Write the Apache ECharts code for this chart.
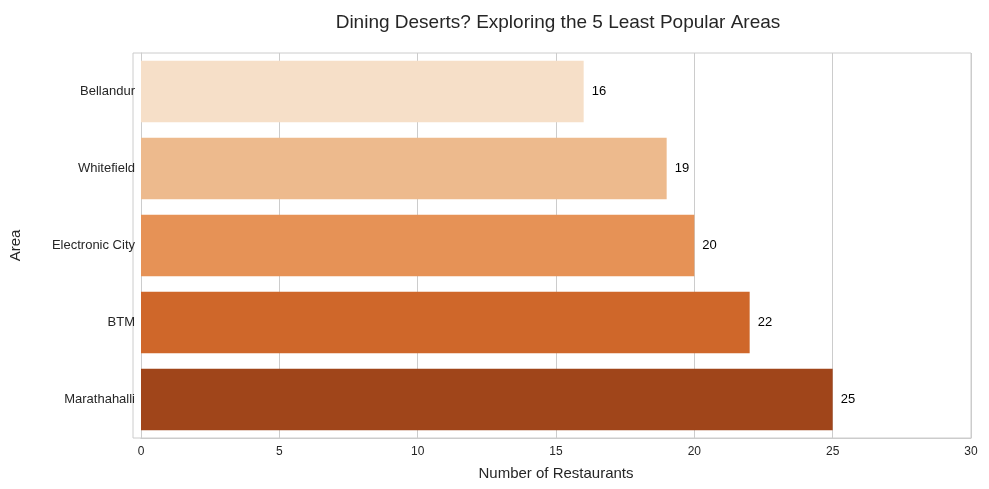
<!DOCTYPE html>
<html>
<head>
<meta charset="utf-8">
<script src="https://cdn.jsdelivr.net/npm/echarts@6/dist/echarts.min.js"></script>
<style>html,body{margin:0;padding:0;background:#fff}#chart{width:989px;height:489px}</style>
</head>
<body>
<div id="chart"></div>
<script>
// areas listed top to bottom
var areas = ['Bellandur', 'Whitefield', 'Electronic City', 'BTM', 'Marathahalli'];
var counts = [16, 19, 20, 22, 25];
var barColors = ['#f6dfc8', '#edba8d', '#e69256', '#cf672a', '#a0451a'];

var myChart = echarts.init(document.getElementById('chart'));
myChart.setOption({
    animation: false,
    title: {
        text: 'Dining Deserts? Exploring the 5 Least Popular Areas',
        left: 553,
        top: 8,
        textAlign: 'center',
        textStyle: {fontFamily: 'Liberation Sans, Arial', fontSize: 19, fontWeight: 'normal', color: '#262626'}
    },
    grid: {left: 133, right: 18, top: 53, bottom: 51},
    xAxis: {
        type: 'value',
        min: 0, max: 30, interval: 5,
        name: 'Number of Restaurants',
        nameLocation: 'middle',
        nameGap: 28,
        nameTextStyle: {fontFamily: 'Liberation Sans, Arial', fontSize: 15, color: '#262626'},
        axisLine: {show: true, lineStyle: {color: '#cccccc'}},
        axisTick: {show: false},
        axisLabel: {fontFamily: 'Liberation Sans, Arial', fontSize: 12, color: '#262626'},
        splitLine: {show: true, lineStyle: {color: '#cccccc'}}
    },
    yAxis: {
        type: 'category',
        data: areas,
        inverse: true,
        name: 'Area',
        nameLocation: 'middle',
        nameGap: 118,
        nameTextStyle: {fontFamily: 'Liberation Sans, Arial', fontSize: 15, color: '#262626'},
        axisLine: {show: true, lineStyle: {color: '#cccccc'}},
        axisTick: {show: false},
        axisLabel: {fontFamily: 'Liberation Sans, Arial', fontSize: 13, color: '#262626', margin: 6},
        splitLine: {show: false}
    },
    series: [{
        type: 'bar',
        barCategoryGap: '20%',
        data: counts.map(function (v, i) {
            return {value: v, itemStyle: {color: barColors[i]}};
        }),
        label: {
            show: true,
            position: 'right',
            distance: 8,
            fontFamily: 'Liberation Sans, Arial',
            fontSize: 13,
            color: '#000'
        }
    }],
    graphic: [{
        type: 'rect',
        shape: {x: 133, y: 53, width: 838, height: 385},
        style: {fill: 'none', stroke: '#cccccc', lineWidth: 1},
        silent: true
    }]
});
</script>
</body>
</html>
